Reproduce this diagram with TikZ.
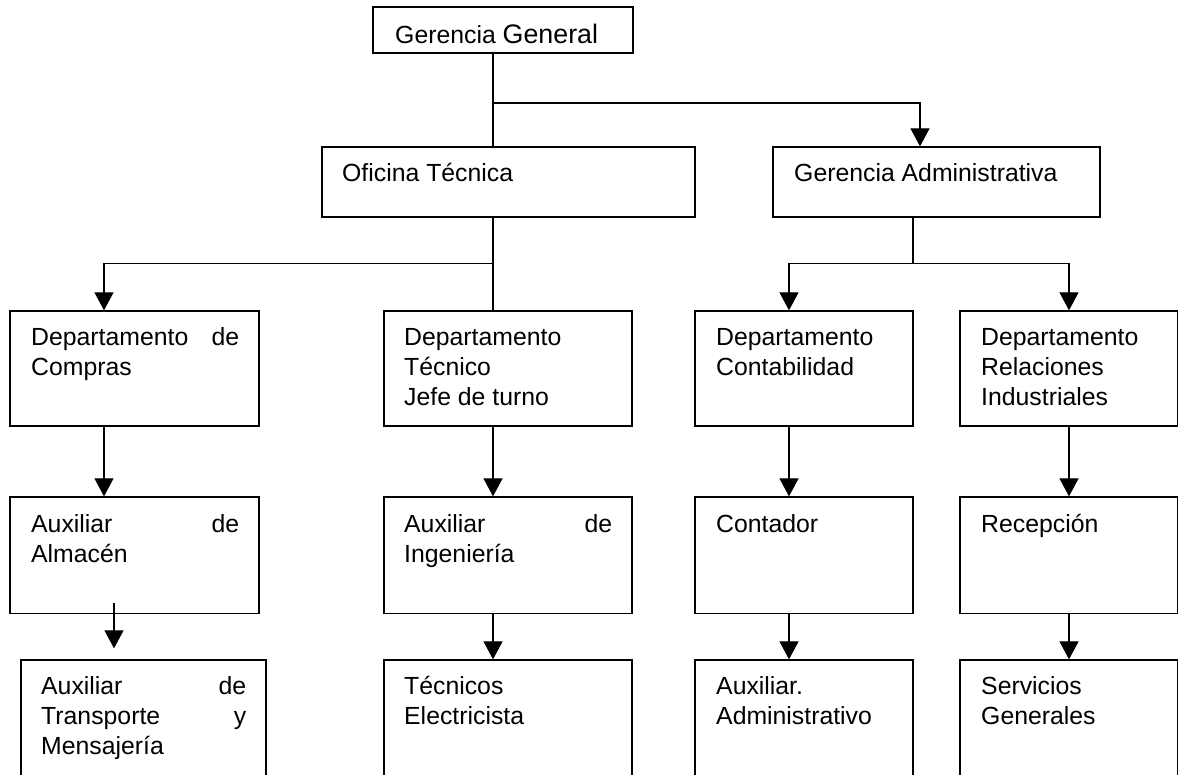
\documentclass[tikz,border=0pt]{standalone}
\usepackage{fontspec}
\setmainfont{Liberation Sans}
\usetikzlibrary{arrows.meta}
\newcommand\bxtext[2]{\begin{minipage}[t]{#1pt}#2\end{minipage}}
\begin{document}
\begin{tikzpicture}[x=1pt,y=-1pt,
  orgbox/.style={draw=black, line width=1.3pt, rectangle, inner sep=0pt},
  lbl/.style={anchor=base west, inner sep=0pt, font=\fontsize{24.8}{30}\selectfont},
  conn/.style={line width=1.2pt},
  arr/.style={conn, -{Triangle[length=18pt,width=19pt]}}]
\useasboundingbox (0,0) rectangle (1180,775);
\fill[white] (0,0) rectangle (1180,775);
\clip (0,0) rectangle (1180,775);

% boxes
\node[orgbox, minimum width=260pt, minimum height=46pt] (gg) at (503,30) {};
\node[orgbox, minimum width=373pt, minimum height=70pt] (ot) at (508.5,182) {};
\node[orgbox, minimum width=327pt, minimum height=70pt] (ga) at (936.5,182) {};

\node[orgbox, minimum width=249pt, minimum height=115pt] (r3a) at (134.5,368.5) {};
\node[orgbox, minimum width=248pt, minimum height=115pt] (r3b) at (508,368.5) {};
\node[orgbox, minimum width=218pt, minimum height=115pt] (r3c) at (804,368.5) {};
\node[orgbox, minimum width=217.5pt, minimum height=115pt] (r3d) at (1068.75,368.5) {};

\node[orgbox, minimum width=249pt, minimum height=116.5pt] (r4a) at (134.5,555.25) {};
\node[orgbox, minimum width=248pt, minimum height=116.5pt] (r4b) at (508,555.25) {};
\node[orgbox, minimum width=218pt, minimum height=116.5pt] (r4c) at (804,555.25) {};
\node[orgbox, minimum width=217.5pt, minimum height=116.5pt] (r4d) at (1068.75,555.25) {};

\node[orgbox, minimum width=245pt, minimum height=140pt] (r5a) at (143.5,730) {};
\node[orgbox, minimum width=248pt, minimum height=140pt] (r5b) at (508,730) {};
\node[orgbox, minimum width=218pt, minimum height=140pt] (r5c) at (804,730) {};
\node[orgbox, minimum width=217.5pt, minimum height=140pt] (r5d) at (1068.75,730) {};

% texts
\node[lbl] (tgg) at (395,44) {Gerencia {\fontsize{26.8}{30}\selectfont General}};
\node[lbl] (tot) at (342,182) {Oficina Técnica};
\node[lbl] (tga) at (794,182) {Gerencia Administrativa};

\node[lbl] (t3a) at (31,345) {\bxtext{208}{Departamento\hfill de\\Compras}};
\node[lbl] (t3b) at (404,345) {\bxtext{208}{Departamento\\Técnico\\Jefe de turno}};
\node[lbl] (t3c) at (716,345) {\bxtext{178}{Departamento\\Contabilidad}};
\node[lbl] (t3d) at (981,345) {\bxtext{178}{Departamento\\Relaciones\\Industriales}};

\node[lbl] (t4a) at (31,532) {\bxtext{208}{Auxiliar\hfill de\\Almacén}};
\node[lbl] (t4b) at (404,532) {\bxtext{208}{Auxiliar\hfill de\\Ingeniería}};
\node[lbl] (t4c) at (716,532) {Contador};
\node[lbl] (t4d) at (981,532) {Recepción};

\node[lbl] (t5a) at (41,694) {\bxtext{205}{Auxiliar\hfill de\\Transporte\hfill y\\Mensajería}};
\node[lbl] (t5b) at (404,694) {\bxtext{208}{Técnicos\\Electricista}};
\node[lbl] (t5c) at (716,694) {\bxtext{178}{Auxiliar.\\Administrativo}};
\node[lbl] (t5d) at (981,694) {\bxtext{178}{Servicios\\Generales}};

% junctions and column positions
\coordinate (j1) at (493,103);
\coordinate (j2) at (493,263.5);
\coordinate (j3) at (913,263.5);
\coordinate (xa) at (104,0);
\coordinate (xb) at (493,0);
\coordinate (xc) at (789,0);
\coordinate (xd) at (1069,0);
\coordinate (xe) at (114,0);
\coordinate (xg) at (920,0);

% connectors
\draw[conn] (gg.south -| j1) -- (ot.north -| j1);
\draw[arr] (j1) -| (ga.north -| xg);
\draw[conn] (ot.south -| j2) -- (r3b.north -| j2);
\draw[arr] (j2) -| (r3a.north -| xa);
\draw[conn] (ga.south -| j3) -- (j3);
\draw[arr] (j3) -| (r3c.north -| xc);
\draw[arr] (j3) -| (r3d.north -| xd);

\draw[arr] (r3a.south -| xa) -- (r4a.north -| xa);
\draw[arr] (r3b.south -| xb) -- (r4b.north -| xb);
\draw[arr] (r3c.south -| xc) -- (r4c.north -| xc);
\draw[arr] (r3d.south -| xd) -- (r4d.north -| xd);

\draw[arr] ([yshift=11pt]r4a.south -| xe) -- ([yshift=11pt]r5a.north -| xe);
\draw[arr] (r4b.south -| xb) -- (r5b.north -| xb);
\draw[arr] (r4c.south -| xc) -- (r5c.north -| xc);
\draw[arr] (r4d.south -| xd) -- (r5d.north -| xd);
\end{tikzpicture}
\end{document}
